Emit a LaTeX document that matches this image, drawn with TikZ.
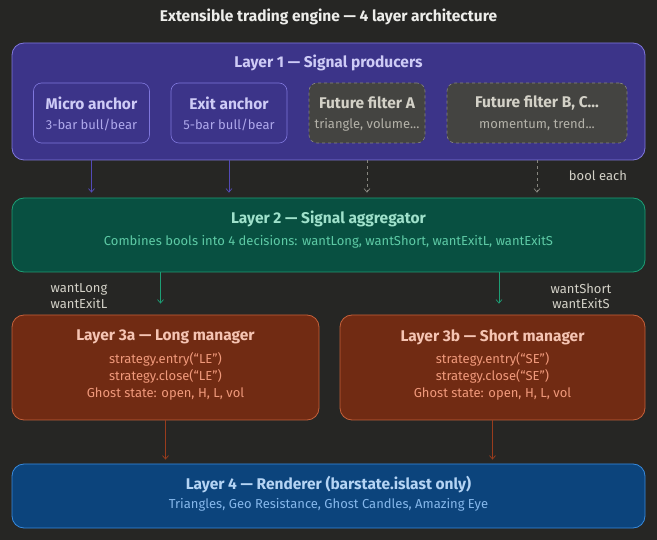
\documentclass[tikz,border=0pt]{standalone}
\usepackage{fontspec}
\setmainfont{Fira Sans}
\usetikzlibrary{arrows.meta}
\definecolor{bg}{HTML}{262624}
\definecolor{pu8}{HTML}{3C3489}
\definecolor{pu4}{HTML}{7F77DD}
\definecolor{pu6}{HTML}{534AB7}
\definecolor{pu1}{HTML}{CECBF6}
\definecolor{pu2}{HTML}{AFA9EC}
\definecolor{te8}{HTML}{085041}
\definecolor{te4}{HTML}{1D9E75}
\definecolor{te1}{HTML}{9FE1CB}
\definecolor{te2}{HTML}{5DCAA5}
\definecolor{co8}{HTML}{712B13}
\definecolor{co4}{HTML}{C4603A}
\definecolor{co6}{HTML}{993C1D}
\definecolor{co1}{HTML}{F5C4B3}
\definecolor{co2}{HTML}{F0997B}
\definecolor{bl8}{HTML}{0C447C}
\definecolor{bl4}{HTML}{378ADD}
\definecolor{bl1}{HTML}{B5D4F4}
\definecolor{bl2}{HTML}{85B7EB}
\definecolor{gr8}{HTML}{444441}
\definecolor{gr4}{HTML}{888780}
\definecolor{gr1}{HTML}{D3D1C7}
\definecolor{gr2}{HTML}{B4B2A9}
\definecolor{ttl}{HTML}{EDEDEA}
\tikzset{
  layerbox/.style={draw, rounded corners=12pt, line width=0.8pt, inner sep=0pt},
  subbox/.style={draw, rounded corners=8pt, line width=0.6pt, inner sep=0pt},
  bigtxt/.style={font=\bfseries\fontsize{15.5}{17}\selectfont, inner sep=0pt},
  smalltxt/.style={font=\fontsize{13}{15}\selectfont, inner sep=0pt},
  conn/.style={line width=0.7pt, -{Straight Barb[length=3.5pt,width=6pt]}},
}
\begin{document}
\begin{tikzpicture}[x=1pt,y=-1pt]
\fill[bg] (0,0) rectangle (657,540);
\useasboundingbox (0,0) rectangle (657,540);

\node[bigtxt, text=ttl] (title) at (328.5,17) {Extensible trading engine — 4 layer architecture};

% Layer 1
\node[layerbox, draw=pu4, fill=pu8, minimum width=633pt, minimum height=117pt] (L1) at (328.5,101.5) {};
\node[bigtxt, text=pu1] (L1t) at (328.5,63) {Layer 1 — Signal producers};
\node[subbox, draw=pu4, fill=pu8, minimum width=116pt, minimum height=60pt] (micro) at (91.5,113) {};
\node[bigtxt, text=pu1] (microt) at (91.5,103) {Micro anchor};
\node[smalltxt, text=pu2] (micros) at (91.5,125) {3-bar bull/bear};
\node[subbox, draw=pu4, fill=pu8, minimum width=116pt, minimum height=60pt] (exit) at (229,113) {};
\node[bigtxt, text=pu1] (exitt) at (229,103) {Exit anchor};
\node[smalltxt, text=pu2] (exits) at (229,125) {5-bar bull/bear};
\node[subbox, draw=gr4, fill=gr8, dashed, minimum width=116pt, minimum height=60pt] (fa) at (367,113) {};
\node[bigtxt, text=gr1] (fat) at (367,103) {Future filter A};
\node[smalltxt, text=gr2] (fas) at (367,125) {triangle, volume...};
\node[subbox, draw=gr4, fill=gr8, dashed, minimum width=180pt, minimum height=60pt] (fb) at (537,113) {};
\node[bigtxt, text=gr1] (fbt) at (537,103) {Future filter B, C...};
\node[smalltxt, text=gr2] (fbs) at (537,125) {momentum, trend...};

% Layer 2
\node[layerbox, draw=te4, fill=te8, minimum width=633pt, minimum height=74pt] (L2) at (328.5,235) {};
\node[bigtxt, text=te1] (L2t) at (328.5,219) {Layer 2 — Signal aggregator};
\node[smalltxt, text=te2] (L2s) at (328.5,242) {Combines bools into 4 decisions: wantLong, wantShort, wantExitL, wantExitS};

\draw[conn, draw=pu6] (micro |- L1.south) -- ([yshift=5pt]micro |- L2.north);
\draw[conn, draw=pu6] (exit |- L1.south) -- ([yshift=5pt]exit |- L2.north);
\draw[conn, draw=gr4, dashed] (fa |- L1.south) -- ([yshift=5pt]fa |- L2.north);
\draw[conn, draw=gr4, dashed] (fb |- L1.south) -- ([yshift=5pt]fb |- L2.north);
\node[smalltxt, text=gr1] (boolL) at (598,176) {bool each};

% Layer 3
\node[layerbox, draw=co4, fill=co8, minimum width=307pt, minimum height=105pt] (L3a) at (165.5,367.5) {};
\node[bigtxt, text=co1] (L3at) at (165.5,337) {Layer 3a — Long manager};
\node[smalltxt, text=co2, align=center, font=\fontsize{13}{17}\selectfont] (L3as) at (165.5,376) {strategy.entry(“LE”)\\strategy.close(“LE”)\\Ghost state: open, H, L, vol};
\node[layerbox, draw=co4, fill=co8, minimum width=305pt, minimum height=105pt] (L3b) at (492.5,367.5) {};
\node[bigtxt, text=co1] (L3bt) at (492.5,337) {Layer 3b — Short manager};
\node[smalltxt, text=co2, align=center, font=\fontsize{13}{17}\selectfont] (L3bs) at (492.5,376) {strategy.entry(“SE”)\\strategy.close(“SE”)\\Ghost state: open, H, L, vol};

\coordinate (gl) at (160.5,0);
\coordinate (gs) at (499,0);
\draw[conn, draw=te4] (gl |- L2.south) -- ([yshift=11pt]gl |- L3a.north);
\draw[conn, draw=te4] (gs |- L2.south) -- ([yshift=11pt]gs |- L3b.north);
\node[smalltxt, text=gr1, align=center, font=\fontsize{13}{15.5}\selectfont] (wl) at (79,296) {wantLong\\wantExitL};
\node[smalltxt, text=gr1, align=center, font=\fontsize{13}{15.5}\selectfont] (ws) at (581,296) {wantShort\\wantExitS};

% Layer 4
\node[layerbox, draw=bl4, fill=bl8, minimum width=633pt, minimum height=64pt] (L4) at (328.5,496) {};
\node[bigtxt, text=bl1] (L4t) at (328.5,485) {Layer 4 — Renderer (barstate.islast only)};
\node[smalltxt, text=bl2] (L4s) at (328.5,505) {Triangles, Geo Resistance, Ghost Candles, Amazing Eye};

\draw[conn, draw=co6] (L3a.south) -- ([yshift=4pt]L3a.south |- L4.north);
\draw[conn, draw=co6] (L3b.south) -- ([yshift=4pt]L3b.south |- L4.north);
\end{tikzpicture}
\end{document}
